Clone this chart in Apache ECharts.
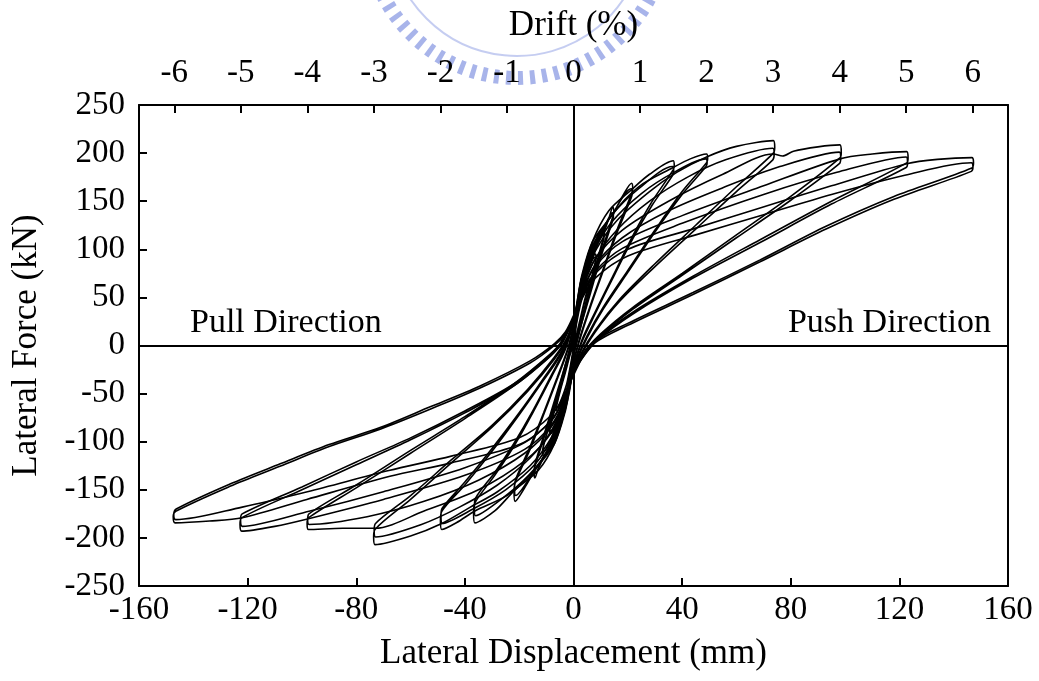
<!DOCTYPE html>
<html>
<head>
<meta charset="utf-8">
<script src="https://cdn.jsdelivr.net/npm/echarts@6/dist/echarts.min.js"></script>
<style>
  html, body { margin: 0; padding: 0; background: #fff; }
  #chart { width: 1039px; height: 681px; }
</style>
</head>
<body>
<div id="chart"></div>
<script>
// Cyclic test record: lateral displacement (mm) vs lateral force (kN),
// two cycles at each drift level, traced as continuous paths.
const loop025 = [
  [0,8],[1.2,28],[2.5,45],[4,60],[5.5,70],[5.8,66],[5.5,62],[4,46],[2.5,28],[1,10],[0,-3],[-1.2,-22],[-2.5,-40],[-4.2,-56],[-6,-68],[-6.3,-64],[-6,-60],[-4.5,-43],[-3,-28],[-1.3,-10],[0,2],
  [1.2,24],[2.5,42],[4,57],[5.4,67],[5.7,63],[5.4,59],[4,44],[2.5,26],[1,8],[0,-5],[-1.2,-24],[-2.5,-40],[-4.2,-54],[-5.9,-65],[-6.2,-61],[-5.9,-57],[-4.5,-41],[-3,-26],[-1.3,-8],[0,4]
];
const loop0375 = [
  [0,6],[1.5,35],[3,60],[5.5,82],[8,95],[8.4,91],[8,87],[5,50],[2.5,22],[1,5],[0,-5],[-1.5,-32],[-3,-55],[-5.8,-78],[-8.5,-92],[-8.9,-88],[-8.5,-84],[-5,-46],[-2.5,-20],[-1,-5],[0,6],
  [1.5,32],[3,56],[5.5,79],[7.9,92],[8.3,88],[7.9,84],[5,48],[2.5,20],[1,3],[0,-7],[-1.5,-30],[-3,-52],[-5.8,-75],[-8.4,-89],[-8.8,-85],[-8.4,-81],[-5,-44],[-2.5,-18],[-1,-3],[0,8]
];
const loop05 = [
  [0,10],[1.5,40],[3,65],[7,95],[11,120],[11.4,116],[11,112],[7,70],[3,25],[1,3],[0,-8],[-1.5,-36],[-3,-60],[-7,-92],[-11,-115],[-11.4,-110],[-11,-104],[-7,-64],[-3,-22],[-1,-2],[0,10],
  [1.5,37],[3,61],[7,91],[10.8,115],[11.2,111],[10.8,107],[7,67],[3,23],[1,1],[0,-10],[-1.5,-34],[-3,-57],[-7,-88],[-10.8,-110],[-11.2,-106],[-10.8,-101],[-7,-62],[-3,-20],[-1,0],[0,12]
];
const loop075 = [
  [0,14],[1.5,45],[3,70],[7,100],[11,117],[13,132],[14.5,144],[14.9,139],[14.5,134],[10,95],[6,55],[2,15],[0,-10],[-1.5,-40],[-3,-65],[-7,-98],[-11,-115],[-13,-128],[-14.2,-137.6],[-14.6,-131],[-14.2,-125.6],[-10,-88],[-6,-50],[-2,-12],[0,14],
  [1.5,42],[3,66],[7,96],[11,120],[14.3,138],[14.7,134],[14.3,129],[10,91],[6,52],[2,13],[0,-12],[-1.5,-38],[-3,-62],[-7,-94],[-11,-116],[-14,-132],[-14.4,-127],[-14,-121],[-10,-85],[-6,-48],[-2,-10],[0,16]
];
const loop1 = [
  [0,18],[1.5,48],[3,72],[7,108],[14.5,137],[18,155],[21.4,168.7],[21.8,163],[21.4,158],[16,120],[11,80],[6,40],[2,5],[0,-18],[-1.5,-45],[-3,-68],[-7,-102],[-14.2,-130],[-18,-148],[-21.5,-162],[-21.9,-152],[-21.5,-142.8],[-16,-108],[-11,-72],[-6,-35],[-2,-4],[0,20],
  [1.5,46],[3,70],[7,104],[14,135],[21.2,163],[21.6,158],[21.2,153],[16,117],[11,78],[6,38],[2,3],[0,-20],[-1.5,-44],[-3,-66],[-7,-99],[-14,-128],[-21.3,-156],[-21.7,-147],[-21.3,-139],[-16,-105],[-11,-70],[-6,-33],[-2,-2],[0,22]
];
const loop15 = [
  [0,22],[1.5,48],[3,70],[7,108],[13,140],[21.4,162],[28,178],[36.7,192],[37.1,187],[36.7,182.5],[29,150],[22,115],[15,75],[8,35],[3,5],[0,-22],[-1.5,-48],[-3,-66],[-7,-102],[-13,-130],[-21.5,-150],[-29,-172],[-36.3,-184.4],[-36.8,-174],[-36.3,-163.6],[-29,-135],[-22,-105],[-15,-70],[-8,-32],[-3,-4],[0,24],
  [1.5,46],[3,67],[7,102],[14,135],[24,163],[36.5,186],[36.9,182],[36.5,177],[29,146],[22,112],[15,73],[8,33],[3,3],[0,-24],[-1.5,-46],[-3,-64],[-7,-98],[-14,-127],[-24,-154],[-36.1,-177],[-36.5,-168],[-36.1,-159],[-29,-132],[-22,-102],[-15,-68],[-8,-30],[-3,-2],[0,25]
];
const loop2 = [
  [0,25],[1.5,45],[3,65],[7,100],[14,135],[24,165],[36.7,185],[43,194],[49,199],[49.4,194],[49,190],[40,160],[30,120],[20,78],[11,40],[5,10],[1,-15],[0,-25],[-1.5,-45],[-3,-62],[-7,-95],[-14,-128],[-24,-155],[-36.3,-172],[-43,-184],[-48.5,-191.3],[-49,-182],[-48.5,-172.4],[-40,-145],[-30,-110],[-20,-72],[-11,-36],[-4,-6],[0,26],
  [1.5,44],[3,62],[7,95],[14,128],[25,158],[37,180],[48.8,194],[49.2,190],[48.8,186],[40,157],[30,118],[20,76],[11,38],[5,8],[1,-17],[0,-27],[-1.5,-44],[-3,-60],[-7,-91],[-14,-123],[-25,-150],[-37,-170],[-48.3,-185],[-48.8,-177],[-48.3,-169],[-40,-142],[-30,-107],[-20,-70],[-11,-34],[-4,-4],[0,27]
];
const loop3 = [
  [0,27],[1.5,44],[3,62],[8,98],[16,130],[28,160],[38,180],[49,196],[60,207],[73.6,213],[74.1,206],[73.6,200],[60,165],[45,125],[30,85],[17,48],[8,16],[2,-12],[0,-27],[-1.5,-44],[-3,-60],[-8,-95],[-16,-125],[-28,-152],[-38,-168],[-48.5,-185],[-60,-198],[-73.1,-207],[-73.6,-199],[-73.1,-191.3],[-60,-160],[-45,-122],[-30,-85],[-17,-48],[-7,-14],[-2,8],[0,28],
  [1.5,43],[3,58],[8,90],[16,120],[28,150],[42,175],[56,193],[73.4,205],[73.9,199],[73.4,193],[60,160],[45,121],[30,82],[17,46],[8,14],[2,-14],[0,-28],[-1.5,-43],[-3,-57],[-8,-88],[-16,-117],[-28,-145],[-42,-168],[-56,-186],[-72.9,-199],[-73.4,-192],[-72.9,-185],[-60,-156],[-45,-119],[-30,-83],[-17,-46],[-7,-12],[-2,10],[0,29]
];
const loop4 = [
  [0,28],[1.5,42],[3,58],[8,90],[18,120],[35,150],[55,178],[73.6,199],[77,197],[81,202],[90,206.5],[98.1,208.5],[98.6,201],[98.1,195],[80,155],[60,115],[40,75],[22,40],[10,12],[3,-10],[0,-28],[-1.5,-42],[-3,-58],[-8,-90],[-18,-120],[-35,-150],[-55,-172],[-73.1,-190],[-85,-190],[-97.6,-191.3],[-98.1,-185],[-97.6,-179.2],[-80,-148],[-60,-112],[-40,-76],[-22,-42],[-9,-12],[-4,3],[0,28],
  [1.5,41],[3,55],[8,84],[18,112],[35,140],[55,164],[76,186],[97.9,201],[98.4,195],[97.9,189],[80,151],[60,112],[40,73],[22,38],[10,10],[3,-12],[0,-29],[-1.5,-41],[-3,-55],[-8,-84],[-18,-112],[-35,-140],[-55,-162],[-76,-178],[-97.4,-186],[-97.9,-181],[-97.4,-175],[-80,-145],[-60,-109],[-40,-74],[-22,-40],[-9,-10],[-4,5],[0,29]
];
const loop5 = [
  [0,28],[1.5,40],[3,55],[8,82],[18,108],[40,135],[70,166],[98.1,194],[110,199],[122.7,201.5],[123.2,195],[122.7,189.8],[95,150],[68.7,110],[44,72],[22,35],[9,8],[3,-12],[0,-28],[-1.5,-40],[-3,-55],[-8,-82],[-18,-108],[-40,-135],[-70,-160],[-97.6,-180],[-110,-188],[-122.2,-193],[-122.8,-186],[-122.2,-179.2],[-100,-150],[-80,-124],[-60,-98],[-40,-70],[-22,-42],[-10,-15],[-5,0],[0,28],
  [1.5,39],[3,52],[8,77],[18,101],[40,127],[70,157],[97,180],[122.5,196],[123,190],[122.5,185],[95,147],[68.7,107],[44,70],[22,33],[9,6],[3,-14],[0,-29],[-1.5,-39],[-3,-52],[-8,-77],[-18,-101],[-40,-127],[-70,-152],[-97,-172],[-122,-188],[-122.6,-181],[-122,-175],[-100,-147],[-80,-121],[-60,-96],[-40,-68],[-22,-40],[-10,-13],[-5,2],[0,29]
];
const loop6 = [
  [0,25],[1.5,37],[3,50],[8,75],[20,100],[45,122],[68.7,143],[95,166],[122.7,189],[134,193.5],[146.7,195.3],[147.3,190],[146.7,184.6],[118,155],[93,124],[68.7,89],[44,55],[20,23],[8,5],[3,-12],[0,-30],[-1.5,-40],[-3,-52],[-8,-78],[-20,-103],[-45,-122],[-67.6,-136],[-98.2,-160],[-122,-179],[-134,-182.5],[-146.7,-184.4],[-147.4,-178],[-146.5,-172.4],[-126.5,-146.4],[-108.1,-125.6],[-89.7,-104.8],[-71.2,-87],[-52.8,-66.2],[-34.4,-44.2],[-16,-18.2],[-7,0],[-3,12],[0,30],
  [1.5,38],[3,48],[8,70],[20,93],[45,115],[70,136],[95,157],[122,177],[146.5,190],[147.1,186],[146.5,181],[118,152],[93,121],[68.7,87],[44,53],[20,21],[8,3],[3,-14],[0,-31],[-1.5,-39],[-3,-49],[-8,-72],[-20,-96],[-45,-115],[-68,-130],[-98,-152],[-122,-168],[-146.5,-181],[-147.2,-176],[-146.3,-170],[-126.5,-144],[-108,-123],[-90,-103],[-71,-85],[-53,-64],[-34.4,-42],[-16,-16],[-7,2],[-3,14],[0,31]
];

// Axis ranges and tick labels
const dispTicks = [-160, -120, -80, -40, 0, 40, 80, 120, 160];
const forceTicks = [-250, -200, -150, -100, -50, 0, 50, 100, 150, 200, 250];
const driftTicks = [-6, -5, -4, -3, -2, -1, 0, 1, 2, 3, 4, 5, 6];
const mmPerPercentDrift = 24.5;

const loops = [loop025, loop0375, loop05, loop075, loop1, loop15, loop2, loop3, loop4, loop5, loop6];

const FONT = '"Liberation Serif", "Times New Roman", serif';
const tickText = { color: '#000', fontFamily: FONT, fontSize: 33 };
const nameText = { color: '#000', fontFamily: FONT, fontSize: 35 };

const chart = echarts.init(document.getElementById('chart'), null, { renderer: 'canvas' });

const dMin = dispTicks[0], dMax = dispTicks[dispTicks.length - 1];
const fMin = forceTicks[0], fMax = forceTicks[forceTicks.length - 1];

const series = loops.map(d => ({
  type: 'line',
  data: d,
  xAxisIndex: 0,
  yAxisIndex: 0,
  showSymbol: false,
  smooth: 0.3,
  lineStyle: { color: '#000', width: 1.6 },
  z: 3,
  silent: true
}));

// Zero reference lines through the origin
series.push({
  type: 'line',
  data: [],
  xAxisIndex: 0,
  yAxisIndex: 0,
  markLine: {
    silent: true,
    symbol: 'none',
    label: { show: false },
    lineStyle: { color: '#000', width: 2, type: 'solid' },
    data: [{ xAxis: 0 }, { yAxis: 0 }]
  },
  z: 2
});

const axisLine = { show: true, onZero: false, lineStyle: { color: '#000', width: 2 } };
const innerTick = { show: true, inside: true, length: 8, lineStyle: { color: '#000', width: 2 } };

const option = {
  animation: false,
  backgroundColor: '#fff',
  grid: { left: 139, right: 31, top: 105, bottom: 95, containLabel: false },
  xAxis: [
    {
      type: 'value', position: 'bottom',
      min: dMin, max: dMax, interval: 40,
      axisLine: axisLine,
      axisTick: innerTick,
      axisLabel: Object.assign({ margin: 8 }, tickText),
      splitLine: { show: false },
      name: 'Lateral Displacement (mm)',
      nameLocation: 'middle', nameGap: 50,
      nameTextStyle: nameText
    },
    {
      type: 'value', position: 'top',
      min: dMin / mmPerPercentDrift, max: dMax / mmPerPercentDrift,
      axisLine: axisLine,
      axisTick: Object.assign({ customValues: driftTicks }, innerTick),
      axisLabel: Object.assign({ margin: 15, customValues: driftTicks, formatter: v => String(Math.round(v)) }, tickText),
      splitLine: { show: false },
      name: 'Drift (%)',
      nameLocation: 'middle', nameGap: 62,
      nameTextStyle: nameText
    }
  ],
  yAxis: [
    {
      type: 'value', position: 'left',
      min: fMin, max: fMax, interval: 50,
      axisLine: axisLine,
      axisTick: innerTick,
      axisLabel: Object.assign({ margin: 14 }, tickText),
      splitLine: { show: false },
      name: 'Lateral Force (kN)',
      nameLocation: 'middle', nameGap: 95,
      nameTextStyle: nameText
    },
    {
      type: 'value', position: 'right',
      min: fMin, max: fMax, interval: 50,
      axisLine: axisLine,
      axisTick: { show: false },
      axisLabel: { show: false },
      splitLine: { show: false }
    }
  ],
  graphic: [
    // faint university emblem behind the top title
    {
      type: 'arc', silent: true, z: -10,
      shape: { cx: 517, cy: -72, r: 150, startAngle: 0.25, endAngle: Math.PI - 0.2 },
      style: { stroke: 'rgba(110,130,220,0.6)', lineWidth: 14, lineDash: [5, 7], fill: null }
    },
    {
      type: 'arc', silent: true, z: -10,
      shape: { cx: 517, cy: -72, r: 128, startAngle: 0.1, endAngle: Math.PI - 0.1 },
      style: { stroke: 'rgba(110,130,220,0.4)', lineWidth: 2, fill: null }
    },
    {
      type: 'text', left: 190, top: 306, silent: true,
      style: { text: 'Pull Direction', fill: '#000', font: '34px ' + FONT }
    },
    {
      type: 'text', right: 48, top: 306, silent: true,
      style: { text: 'Push Direction', fill: '#000', font: '34px ' + FONT }
    }
  ],
  series: series
};

chart.setOption(option);
</script>
</body>
</html>
